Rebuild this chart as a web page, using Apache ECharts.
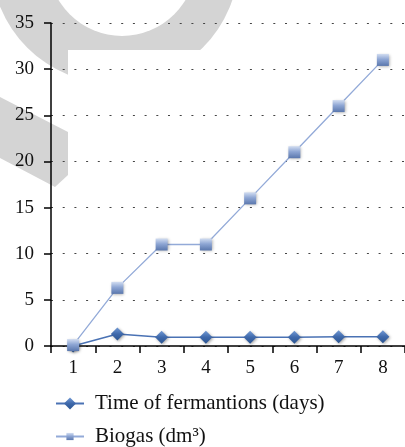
<!DOCTYPE html>
<html>
<head>
<meta charset="utf-8">
<script src="https://cdn.jsdelivr.net/npm/echarts@6/dist/echarts.min.js"></script>
<style>
  html, body { margin: 0; padding: 0; background: #fff; }
  #chart { width: 405px; height: 447px; }
</style>
</head>
<body>
<div id="chart"></div>
<script>
// Day numbers along the horizontal axis
const days = ['1', '2', '3', '4', '5', '6', '7', '8'];
// Series values
const fermentationTime = [0, 1.3, 0.95, 0.95, 0.95, 0.95, 1, 1];
const biogasVolume = [0.1, 6.3, 11, 11, 16, 21, 26, 31];
// Value axis range
const yMin = 0;
const yMax = 35;
const yStep = 5;

const timeName = 'Time of fermantions (days)';
const biogasName = 'Biogas (dm³)';

const serifFont = '"Liberation Serif", "Times New Roman", serif';

const chart = echarts.init(document.getElementById('chart'), null, { renderer: 'canvas' });

const markerShadow = {
  shadowBlur: 3,
  shadowColor: 'rgba(0,0,0,0.35)',
  shadowOffsetX: 1,
  shadowOffsetY: 1
};

// one legend block per row, stacked under the axis
function legendRow(name, top, iconHeight) {
  return {
    orient: 'horizontal',
    left: 50,
    top: top,
    itemWidth: 28,
    itemHeight: iconHeight,
    data: [name],
    textStyle: { color: '#111', fontFamily: serifFont, fontSize: 21, padding: [0, 0, 0, 6] }
  };
}

chart.setOption({
  animation: false,
  backgroundColor: '#fff',
  // soft grey backdrop shape with a white plotting panel over it
  graphic: [
    { type: 'circle', z: 1, silent: true, shape: { cx: 115, cy: -40, r: 124 }, style: { fill: '#d4d4d4' } },
    { type: 'circle', z: 2, silent: true, shape: { cx: 122, cy: -38, r: 74 }, style: { fill: '#fff' } },
    { type: 'polygon', z: 2, silent: true, shape: { points: [[0, 97], [68, 132], [68, 175], [55, 187], [0, 158]] }, style: { fill: '#d4d4d4' } },
    { type: 'rect', z: 3, silent: true, shape: { x: 68, y: 50, width: 340, height: 400 }, style: { fill: '#fff' } }
  ],
  grid: { left: 51, top: 23, width: 363, height: 323, containLabel: false },
  xAxis: {
    type: 'category',
    data: days,
    z: 10,
    boundaryGap: true,
    axisLine: { show: true, lineStyle: { color: '#000', width: 1.5 } },
    axisTick: { show: true, length: 7, lineStyle: { color: '#000', width: 1.5 } },
    axisLabel: { color: '#111', fontFamily: serifFont, fontSize: 19, margin: 13 },
    splitLine: { show: false }
  },
  yAxis: {
    type: 'value',
    min: yMin,
    max: yMax,
    interval: yStep,
    z: 10,
    axisLine: { show: true, lineStyle: { color: '#000', width: 1.5 } },
    axisTick: { show: true, length: 7, lineStyle: { color: '#000', width: 1.5 } },
    axisLabel: { color: '#111', fontFamily: serifFont, fontSize: 19, margin: 17 },
    splitLine: { show: true, lineStyle: { color: '#444', width: 1.2, type: [2, 9.7] } }
  },
  legend: [legendRow(timeName, 388, 15), legendRow(biogasName, 421, 9)],
  series: [
    {
      name: timeName,
      type: 'line',
      z: 12,
      data: fermentationTime,
      symbol: 'diamond',
      symbolSize: [13, 13],
      lineStyle: { color: '#4a72b4', width: 1.6 },
      itemStyle: Object.assign({
        color: new echarts.graphic.LinearGradient(0, 0, 0, 1, [
          { offset: 0, color: '#7199d4' },
          { offset: 0.5, color: '#3f69ab' },
          { offset: 1, color: '#2b5592' }
        ])
      }, markerShadow)
    },
    {
      name: biogasName,
      type: 'line',
      z: 13,
      data: biogasVolume,
      symbol: 'rect',
      symbolSize: [12, 12],
      lineStyle: { color: '#93aad8', width: 1.3 },
      itemStyle: Object.assign({
        color: new echarts.graphic.LinearGradient(0, 0, 0, 1, [
          { offset: 0, color: '#d2ddf1' },
          { offset: 0.45, color: '#8ea6d4' },
          { offset: 1, color: '#5a77ad' }
        ])
      }, markerShadow)
    }
  ]
});
</script>
</body>
</html>
